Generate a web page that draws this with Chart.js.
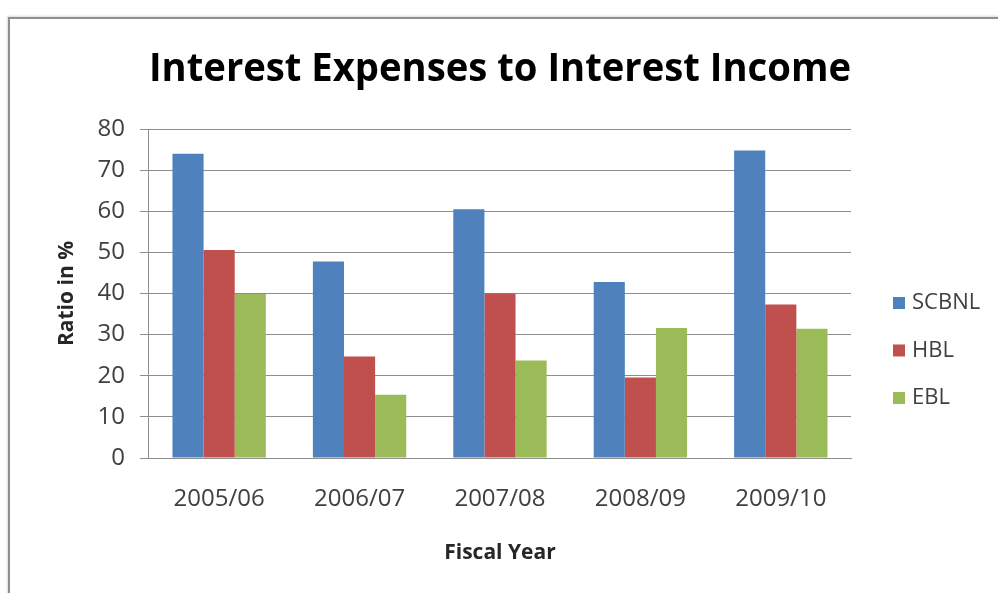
<!DOCTYPE html>
<html>
<head>
<meta charset="utf-8">
<title>Interest Expenses to Interest Income</title>
<script src="https://cdn.jsdelivr.net/npm/chart.js@4"></script>
<style>
  html, body { margin: 0; padding: 0; background: #fff; }
  #wrap { position: relative; width: 998px; height: 593px; overflow: hidden; }
  #frame {
    position: absolute; left: 8px; top: 17px; right: -10px; bottom: -10px;
    border-left: 2px solid #8f8f8f; border-top: 2px solid #8f8f8f;
    box-shadow: -1px -1px 2px rgba(0,0,0,0.15);
    pointer-events: none;
  }
  canvas { position: absolute; left: 0; top: 0; }
</style>
</head>
<body>
<div id="wrap">
  <canvas id="barChart" width="998" height="593"></canvas>
  <div id="frame"></div>
</div>
<script>
const years = ["2005/06", "2006/07", "2007/08", "2008/09", "2009/10"];
const scbnl = [74.0, 47.8, 60.5, 42.8, 74.8];
const hbl = [50.6, 24.7, 40.0, 19.6, 37.3];
const ebl = [39.9, 15.4, 23.7, 31.6, 31.4];

const FONT = "'Open Sans', 'DejaVu Sans', sans-serif";
const GRID = "#8e8e8e";

// legend stacked on the right, beside the plot
const sideLegend = {
  id: "sideLegend",
  afterDraw(chart) {
    const { ctx, chartArea } = chart;
    const x = chartArea.right + 42;
    ctx.save();
    ctx.font = "22px " + FONT;
    ctx.textBaseline = "middle";
    chart.data.datasets.forEach((ds, i) => {
      const y = 303 + i * 47.5;
      ctx.fillStyle = ds.backgroundColor;
      ctx.fillRect(x, y - 6, 12, 12);
      ctx.fillStyle = "#404040";
      ctx.fillText(ds.label, x + 19, y);
    });
    ctx.restore();
  }
};

new Chart(document.getElementById("barChart"), {
  type: "bar",
  data: {
    labels: years,
    datasets: [
      { label: "SCBNL", data: scbnl, backgroundColor: "#4f81bd" },
      { label: "HBL", data: hbl, backgroundColor: "#c0504d" },
      { label: "EBL", data: ebl, backgroundColor: "#9bbb59" }
    ]
  },
  options: {
    responsive: false,
    animation: false,
    layout: { padding: { left: 20, right: 147, top: 0, bottom: 0 } },
    datasets: {
      bar: { categoryPercentage: 0.665, barPercentage: 1.0 }
    },
    plugins: {
      legend: { display: false },
      tooltip: { enabled: false },
      title: {
        display: true,
        fullSize: false,
        text: "Interest Expenses to Interest Income",
        color: "#000",
        font: { family: FONT, size: 39, weight: "bold" },
        padding: { top: 46.6, bottom: 35.6 }
      }
    },
    scales: {
      x: {
        grid: { display: false, drawTicks: false, tickLength: 0 },
        border: { display: true, color: GRID, width: 1 },
        ticks: { color: "#404040", font: { family: FONT, size: 24 }, padding: 27 },
        title: {
          display: true,
          text: "Fiscal Year",
          color: "#262626",
          font: { family: FONT, size: 21, weight: "bold" },
          padding: { top: 0, bottom: 27 }
        }
      },
      y: {
        min: 0,
        max: 80,
        ticks: { stepSize: 10, color: "#404040", font: { family: FONT, size: 24 }, padding: 15 },
        grid: { color: GRID, lineWidth: 1, tickLength: 9 },
        border: { display: true, color: GRID, width: 1 },
        title: {
          display: true,
          text: "Ratio in %",
          color: "#262626",
          font: { family: FONT, size: 21, weight: "bold" },
          padding: { top: 34, bottom: 3.3 }
        }
      }
    }
  },
  plugins: [sideLegend]
});
</script>
</body>
</html>
